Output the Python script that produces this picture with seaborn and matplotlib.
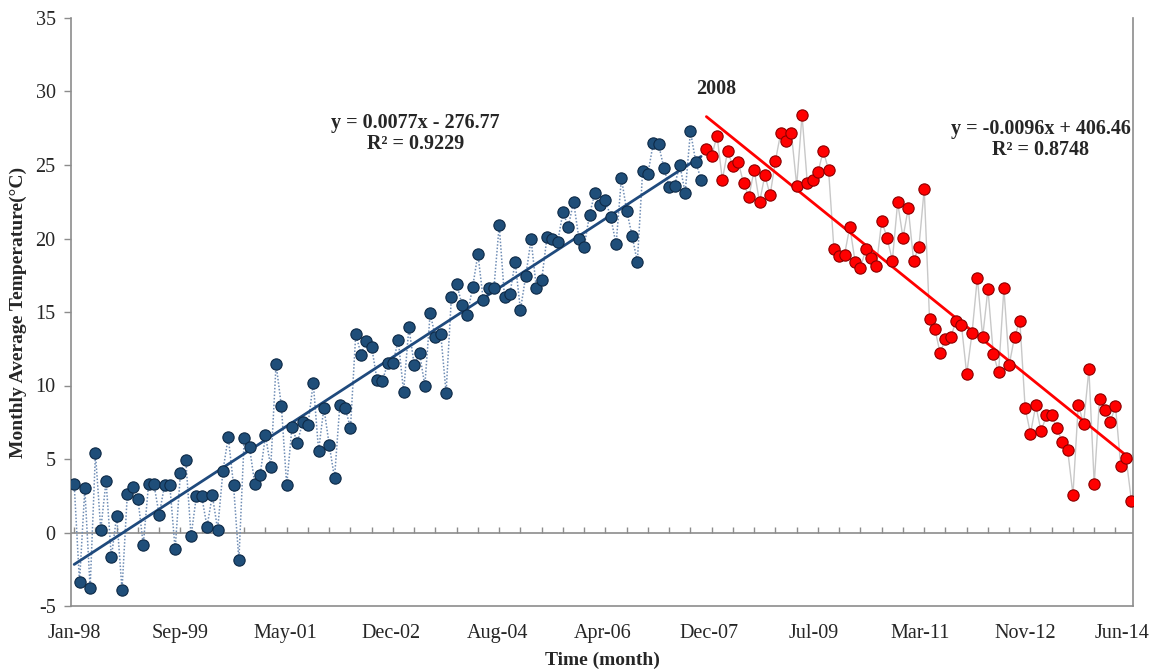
import numpy as np
import pandas as pd
import matplotlib
matplotlib.use("Agg")
import matplotlib.pyplot as plt
import matplotlib.transforms as mtransforms
import seaborn as sns

# ---- data ----
blue_temps = [3.3, -3.4, 3.0, -3.8, 5.4, 0.2, 3.5, -1.7, 1.15, -3.9,
              2.6, 3.1, 2.3, -0.85, 3.3, 3.3, 1.2, 3.2, 3.2, -1.15,
              4.05, 4.96, -0.25, 2.47, 2.47, 0.39, 2.53, 0.2, 4.2, 6.5,
              3.2, -1.9, 6.4, 5.8, 3.3, 3.9, 6.6, 4.46, 11.46, 8.6,
              3.2, 7.2, 6.1, 7.5, 7.3, 10.2, 5.57, 8.47, 5.98, 3.7,
              8.65, 8.5, 7.1, 13.5, 12.1, 13.06, 12.6, 10.4, 10.3, 11.5,
              11.5, 13.1, 9.56, 13.95, 11.4, 12.2, 10.0, 14.9, 13.3, 13.5,
              9.5, 16.0, 16.9, 15.5, 14.8, 16.7, 18.95, 15.8, 16.6, 16.6,
              20.9, 16.0, 16.2, 18.4, 15.15, 17.46, 19.95, 16.6, 17.2, 20.1,
              20.0, 19.75, 21.8, 20.8, 22.5, 20.0, 19.45, 21.6, 23.1, 22.3,
              22.6, 21.45, 19.6, 24.1, 21.9, 20.2, 18.4, 24.6, 24.4, 26.5,
              26.4, 24.8, 23.5, 23.6, 25.0, 23.1, 27.3, 25.2, 24.0]

red_temps = [26.1, 25.6, 27.0, 24.0, 25.95, 24.9, 25.2, 23.75, 22.85, 24.66,
             22.46, 24.3, 22.96, 25.3, 27.2, 26.65, 27.15, 23.6, 28.4, 23.75,
             24.0, 24.5, 25.97, 24.66, 19.3, 18.8, 18.9, 20.8, 18.4, 18.0,
             19.27, 18.7, 18.16, 21.2, 20.06, 18.5, 22.46, 20.06, 22.06, 18.5,
             19.4, 23.37, 14.54, 13.86, 12.2, 13.18, 13.3, 14.4, 14.13, 10.78,
             13.57, 17.34, 13.3, 16.56, 12.16, 10.9, 16.6, 11.4, 13.3, 14.4,
             8.47, 6.73, 8.65, 6.88, 7.97, 7.97, 7.1, 6.13, 5.6, 2.58,
             8.7, 7.4, 11.1, 3.3, 9.1, 8.3, 7.5, 8.6, 4.5, 5.07,
             2.17]

tick_labels = ["Jan-98", "Sep-99", "May-01", "Dec-02", "Aug-04", "Apr-06",
               "Dec-07", "Jul-09", "Mar-11", "Nov-12", "Jun-14"]
y_ticks = [-5, 0, 5, 10, 15, 20, 25, 30, 35]

eq_blue = "y = 0.0077x - 276.77\nR² = 0.9229"
eq_red = "y = -0.0096x + 406.46\nR² = 0.8748"
split_label = "2008"

# ---- build frames ----
n_b, n_r = len(blue_temps), len(red_temps)
n_all = n_b + n_r
df_b = pd.DataFrame({"t": np.arange(n_b), "temp": blue_temps})
df_r = pd.DataFrame({"t": np.arange(n_b, n_all), "temp": red_temps})

sns.set_theme(style="white")
plt.rcParams['font.family'] = ['Liberation Serif', 'DejaVu Serif']

W, H = 1151, 669
fig = plt.figure(figsize=(W / 100, H / 100), dpi=100)
ax = fig.add_axes([71 / W, 1 - 606 / H, (1133 - 71) / W, (606 - 18) / H])

BLUE_FILL = "#1F4E79"
BLUE_EDGE = "#0E2A47"
BLUE_LINE = "#1F4A7D"
RED_FILL = "#FF0000"
RED_EDGE = "#8B0000"

# connecting lines
sns.lineplot(data=df_b, x="t", y="temp", ax=ax, color="#6F8DB5",
             lw=1.1, linestyle=(0, (1, 1.2)), zorder=2, estimator=None)
sns.lineplot(data=df_r, x="t", y="temp", ax=ax, color="#C8C8C8",
             lw=1.0, zorder=2, estimator=None)

# trend lines
sns.regplot(data=df_b, x="t", y="temp", ax=ax, scatter=False, ci=None,
            truncate=True, color=BLUE_LINE, line_kws=dict(lw=2.0, zorder=3))
sns.regplot(data=df_r, x="t", y="temp", ax=ax, scatter=False, ci=None,
            truncate=True, color="#FF0000", line_kws=dict(lw=2.0, zorder=3))

# markers
sns.scatterplot(data=df_b, x="t", y="temp", ax=ax, color=BLUE_FILL,
                edgecolor=BLUE_EDGE, linewidth=0.8, s=66, zorder=4)
sns.scatterplot(data=df_r, x="t", y="temp", ax=ax, color=RED_FILL,
                edgecolor=RED_EDGE, linewidth=0.8, s=66, zorder=4)

# zero line with small tick marks (Excel category axis crossing at 0)
ax.axhline(0, color="#8C8C8C", lw=1.2, zorder=1)
minor_pos = np.arange(0, n_all, 4)
ax.vlines(minor_pos, 0, 0.35, color="#8C8C8C", lw=1.0, zorder=1)

ax.set_xlim(-0.6, n_all - 1 + 0.3)
ax.set_ylim(-5, 35)
ax.set_yticks(y_ticks)
ax.set_yticklabels([str(v) for v in y_ticks])
ax.set_xticks(np.linspace(0, n_all - 1, len(tick_labels)))
ax.set_xticklabels(tick_labels)

for side in ["left", "bottom", "right"]:
    ax.spines[side].set_visible(True)
    ax.spines[side].set_color("#8C8C8C")
    ax.spines[side].set_linewidth(1.2)
ax.spines["top"].set_visible(False)

ax.tick_params(axis="y", which="major", direction="out", length=5, width=1,
               color="#8C8C8C", labelsize=14.5, pad=6, left=True)
ax.tick_params(axis="x", which="major", length=0, labelsize=14.5, pad=13)

# keep the last date label inside the figure, as the reference does
last = ax.get_xticklabels()[-1]
last.set_transform(last.get_transform() +
                   mtransforms.ScaledTranslation(-0.09, 0, fig.dpi_scale_trans))

ax.set_xlabel("Time (month)", fontsize=14, fontweight="bold", labelpad=6)
ax.set_ylabel("Monthly Average Temperature(°C)", fontsize=14,
              fontweight="bold", labelpad=6)

ax.text(64.2, 27.15, eq_blue, ha="center", va="center", fontsize=14.5,
        fontweight="bold", linespacing=1.05)
ax.text(181.9, 26.75, eq_red, ha="center", va="center", fontsize=14.5,
        fontweight="bold", linespacing=1.05)
ax.text(120.8, 30.2, split_label, ha="center", va="center", fontsize=14.5,
        fontweight="bold")

fig.savefig("out.png", dpi=100)
